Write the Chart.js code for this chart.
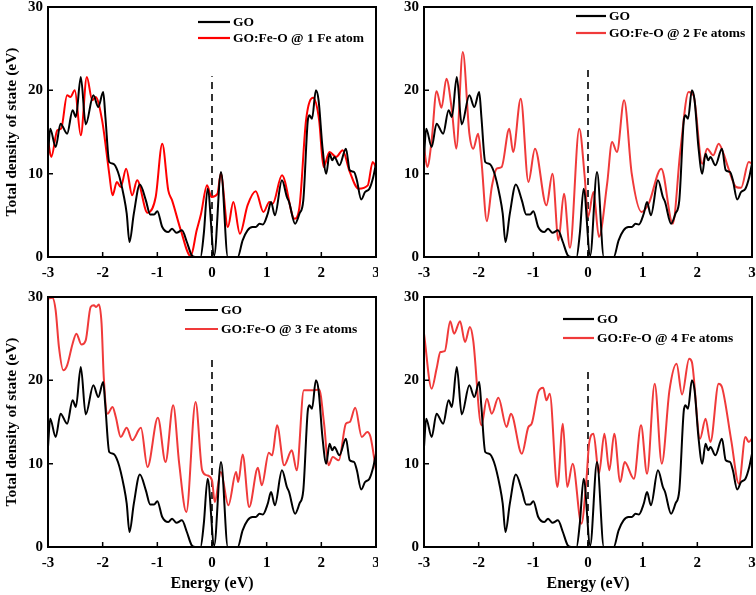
<!DOCTYPE html>
<html><head><meta charset="utf-8">
<script src="https://cdn.jsdelivr.net/npm/chart.js@4.4.0/dist/chart.umd.min.js"></script>
<style>
html,body{margin:0;padding:0;background:#fff;}
body{width:756px;height:595px;position:relative;overflow:hidden;}
.p{position:absolute;}
canvas{display:block;}
</style></head><body>
<div class="p" style="left:0;top:0;width:378px;height:290px"><canvas id="c1" width="378" height="290"></canvas></div>
<div class="p" style="left:378px;top:0;width:378px;height:290px"><canvas id="c2" width="378" height="290"></canvas></div>
<div class="p" style="left:0;top:290px;width:378px;height:305px"><canvas id="c3" width="378" height="305"></canvas></div>
<div class="p" style="left:378px;top:290px;width:378px;height:305px"><canvas id="c4" width="378" height="305"></canvas></div>
<script>
// ---- tick labels ----
const xTickValues = [-3, -2, -1, 0, 1, 2, 3];
const yTickValues = [0, 10, 20, 30];
const xTitle = 'Energy (eV)';
const yTitle = 'Total density of state (eV)';

// ---- GO (same curve in all panels) ----
const goE = [-3.00,-2.96,-2.86,-2.77,-2.65,-2.55,-2.49,-2.40,-2.31,-2.17,-2.08,-1.99,-1.95,-1.88,-1.81,-1.72,-1.61,-1.56,-1.51,-1.43,-1.32,-1.21,-1.13,-1.06,-1.00,-0.91,-0.80,-0.73,-0.65,-0.55,-0.46,-0.37,-0.30,-0.21,-0.15,-0.08,0.04,0.165,0.29,0.47,0.56,0.65,0.74,0.80,0.87,0.93,1.02,1.08,1.15,1.28,1.37,1.41,1.52,1.60,1.67,1.75,1.78,1.83,1.90,1.95,2.02,2.09,2.15,2.20,2.24,2.33,2.45,2.52,2.60,2.65,2.73,2.80,2.88,2.95,3.00];
const goV = [12.0,15.4,13.2,16.0,14.8,17.6,16.8,21.6,15.9,19.4,18.0,19.8,16.8,11.4,11.2,10.2,7.2,5.2,1.8,5.2,8.7,6.8,5.1,5.1,5.5,3.6,3.0,3.4,2.9,3.2,1.8,0.2,0,0,2.8,8.2,0.2,10.2,0,0,2.0,3.2,3.6,3.6,4.0,3.9,5.2,6.6,5.0,9.2,7.2,6.6,4.0,5.2,6.8,16.2,17.0,16.6,20.0,18.8,13.2,10.0,12.4,11.6,12.0,11.0,13.0,10.4,10.2,9.2,6.9,7.8,8.2,9.6,11.2];

// ---- GO:Fe-O @ 1 Fe atom ----
const fe1E = [-3.00,-2.94,-2.83,-2.76,-2.65,-2.59,-2.51,-2.40,-2.29,-2.19,-2.13,-2.01,-1.88,-1.82,-1.74,-1.67,-1.57,-1.46,-1.37,-1.18,-1.03,-0.91,-0.80,-0.73,-0.57,-0.39,-0.28,-0.20,-0.09,-0.01,0.10,0.16,0.29,0.39,0.51,0.65,0.80,0.94,1.05,1.11,1.28,1.51,1.60,1.72,1.85,1.96,2.04,2.15,2.27,2.39,2.51,2.68,2.85,2.94,3.00];
const fe1V = [14.0,12.0,15.2,15.4,19.4,19.2,20.0,14.6,21.6,18.8,19.2,16.4,10.0,7.4,9.0,8.4,10.6,7.4,9.2,5.3,7.2,13.6,8.0,6.8,3.2,0.1,3.2,5.2,8.6,7.2,7.6,10.0,3.6,6.6,2.8,6.2,7.9,5.4,6.6,6.4,9.8,4.6,6.0,16.4,19.1,16.4,10.8,12.6,12.0,12.8,10.4,8.2,8.6,11.4,10.8];

// ---- GO:Fe-O @ 2 Fe atoms ----
const fe2E = [-3.00,-2.94,-2.86,-2.77,-2.68,-2.59,-2.49,-2.41,-2.29,-2.17,-2.10,-2.01,-1.95,-1.85,-1.76,-1.67,-1.58,-1.44,-1.37,-1.23,-1.09,-0.97,-0.76,-0.65,-0.54,-0.44,-0.33,-0.16,-0.06,0.00,0.10,0.20,0.35,0.44,0.53,0.66,0.80,0.98,1.11,1.34,1.55,1.69,1.84,1.93,2.09,2.18,2.29,2.39,2.48,2.57,2.71,2.80,2.94,3.00];
const fe2V = [13.2,10.8,14.0,19.9,17.9,21.4,17.6,13.0,24.6,14.8,13.0,14.8,11.6,4.3,8.4,10.6,10.8,15.4,12.6,19.0,9.0,13.0,6.2,10.0,2.0,7.6,1.1,15.4,9.6,4.8,7.8,2.4,8.8,13.8,12.6,18.8,10.0,5.4,6.4,10.6,4.0,12.8,19.8,19.4,11.2,13.0,12.2,13.6,12.4,10.6,8.4,8.3,11.4,11.2];

// ---- GO:Fe-O @ 3 Fe atoms ----
const fe3E = [-3.00,-2.92,-2.86,-2.80,-2.72,-2.65,-2.55,-2.48,-2.39,-2.31,-2.22,-2.16,-2.12,-2.07,-2.02,-1.98,-1.91,-1.82,-1.76,-1.67,-1.56,-1.46,-1.30,-1.18,-0.99,-0.85,-0.71,-0.60,-0.47,-0.30,-0.18,-0.09,0.00,0.05,0.16,0.30,0.44,0.48,0.56,0.68,0.84,0.91,1.04,1.10,1.19,1.32,1.46,1.55,1.68,1.84,1.96,2.05,2.13,2.21,2.32,2.45,2.52,2.62,2.74,2.84,2.90,3.00];
const fe3V = [29.8,29.9,28.4,24.0,21.2,21.8,24.4,25.6,24.3,24.8,28.8,29.0,28.8,29.1,26.8,20.4,16.0,16.8,15.6,13.2,14.3,12.8,14.3,9.6,15.5,10.2,17.0,10.0,4.2,17.4,9.2,8.6,8.0,5.4,9.0,5.0,9.0,7.8,11.1,4.8,9.5,7.4,11.3,11.0,14.6,9.8,11.6,9.2,18.8,18.8,18.9,14.8,9.8,10.8,10.4,14.8,15.0,16.7,13.2,13.8,13.2,9.2];

// ---- GO:Fe-O @ 4 Fe atoms ----
const fe4E = [-3.00,-2.86,-2.77,-2.70,-2.62,-2.52,-2.45,-2.34,-2.25,-2.16,-2.10,-1.95,-1.85,-1.76,-1.64,-1.49,-1.41,-1.21,-1.09,-1.03,-0.91,-0.82,-0.76,-0.70,-0.56,-0.46,-0.38,-0.28,-0.12,-0.03,0.02,0.10,0.20,0.30,0.39,0.48,0.59,0.67,0.84,0.97,1.08,1.22,1.35,1.49,1.62,1.72,1.85,1.90,2.05,2.15,2.24,2.39,2.45,2.62,2.76,2.88,2.94,3.00];
const fe4V = [25.6,19.0,21.4,23.4,23.5,27.1,25.6,27.1,24.6,26.4,24.8,14.6,17.8,16.0,17.9,14.4,16.0,11.2,14.4,14.8,18.6,19.1,17.6,18.4,7.2,14.8,7.2,10.0,2.8,8.0,12.4,13.6,8.8,13.6,9.2,13.6,7.8,10.2,8.2,14.6,8.8,19.6,10.0,18.8,22.0,18.3,22.6,22.2,13.0,15.4,12.6,19.6,19.2,12.8,7.6,13.2,12.6,13.0];

// ---- labels / Fermi marker heights ----
const goLabel = 'GO';
const feLabels = ['GO:Fe-O @ 1 Fe atom', 'GO:Fe-O @ 2 Fe atoms', 'GO:Fe-O @ 3 Fe atoms', 'GO:Fe-O @ 4 Fe atoms'];
const fermiTop = [21.7, 22.8, 22.6, 21.0];

const FONT = "'Liberation Serif','Times New Roman',serif";
const pts = (E, V) => E.map((e, i) => ({x: e, y: V[i]}));

const framePlugin = {
  id: 'frame',
  afterDatasetsDraw(chart) {
    const {ctx, chartArea: a, scales} = chart;
    ctx.save();
    ctx.strokeStyle = '#000';
    ctx.lineWidth = 2;
    ctx.strokeRect(a.left, a.top, a.right - a.left, a.bottom - a.top);
    ctx.lineWidth = 1.5;
    ctx.beginPath();
    xTickValues.forEach(v => { const px = scales.x.getPixelForValue(v); ctx.moveTo(px, a.bottom); ctx.lineTo(px, a.bottom - 5); });
    yTickValues.forEach(v => { const py = scales.y.getPixelForValue(v); ctx.moveTo(a.left, py); ctx.lineTo(a.left + 5, py); });
    ctx.stroke();
    // legend
    const lg = chart.options.plugins.frameLegend;
    ctx.font = 'bold 13.5px ' + FONT;
    ctx.textBaseline = 'middle';
    ctx.textAlign = 'left';
    const items = chart.data.datasets.filter(d => !d.isMarker);
    items.forEach((d, i) => {
      const y = a.top + lg.ys[i];
      const x0 = a.left + lg.x0, x1 = a.left + lg.x1;
      ctx.strokeStyle = d.borderColor;
      ctx.lineWidth = 2.2;
      ctx.beginPath(); ctx.moveTo(x0, y); ctx.lineTo(x1, y); ctx.stroke();
      ctx.fillStyle = '#000';
      ctx.fillText(d.label, x1 + 3, y + 1);
    });
    ctx.restore();
  }
};

function makeChart(id, idx, feE, feV, color, cfg) {
  const datasets = [
    {label: goLabel, data: pts(goE, goV), borderColor: '#000', borderWidth: 2, pointRadius: 0, cubicInterpolationMode: 'monotone', fill: false},
    {label: feLabels[idx], data: pts(feE, feV), borderColor: color, borderWidth: 2, pointRadius: 0, cubicInterpolationMode: 'monotone', fill: false},
    {label: 'E_F', isMarker: true, data: pts([0, 0], [0, fermiTop[idx]]), borderColor: '#000', borderWidth: 1.6, borderDash: [7, 5], pointRadius: 0, tension: 0, fill: false}
  ];
  return new Chart(document.getElementById(id), {
    type: 'line',
    data: {datasets},
    plugins: [framePlugin],
    options: {
      responsive: false, animation: false, events: [],
      layout: {padding: {top: 7, right: cfg.padR, left: 0, bottom: 0}},
      plugins: {legend: {display: false}, tooltip: {enabled: false}, frameLegend: cfg.legend},
      scales: {
        x: {
          type: 'linear', min: -3, max: 3,
          afterBuildTicks: s => { s.ticks = xTickValues.map(v => ({value: v})); },
          afterFit: s => { s.height = cfg.xH; s.paddingLeft = 0; s.paddingRight = 0; },
          grid: {display: false, drawTicks: false},
          border: {display: false},
          ticks: {color: '#000', padding: 7, maxRotation: 0, autoSkip: false, font: {family: FONT, size: 15, weight: 'bold'}},
          title: {display: cfg.xTitle, text: xTitle, color: '#000', padding: {top: 0, bottom: 2}, font: {family: FONT, size: 16, weight: 'bold'}}
        },
        y: {
          type: 'linear', min: 0, max: 30,
          afterBuildTicks: s => { s.ticks = yTickValues.map(v => ({value: v})); },
          afterFit: s => { s.width = cfg.yW; s.paddingTop = 0; s.paddingBottom = 0; },
          grid: {display: false, drawTicks: false},
          border: {display: false},
          ticks: {color: '#000', padding: 5, autoSkip: false, font: {family: FONT, size: 15, weight: 'bold'}},
          title: {display: cfg.yTitle, text: yTitle, color: '#000', padding: {top: 3, bottom: 0}, font: {family: FONT, size: 15.5, weight: 'bold'}}
        }
      }
    }
  });
}

makeChart('c1', 0, fe1E, fe1V, '#ff0000', {padR: 2, yW: 48, xH: 33, xTitle: false, yTitle: true, legend: {x0: 150, x1: 182, ys: [15, 31]}});
makeChart('c2', 1, fe2E, fe2V, '#f03a3a', {padR: 4, yW: 46, xH: 33, xTitle: false, yTitle: false, legend: {x0: 152, x1: 182, ys: [9, 26]}});
makeChart('c3', 2, fe3E, fe3V, '#f03a3a', {padR: 2, yW: 48, xH: 48, xTitle: true, yTitle: true, legend: {x0: 137, x1: 170, ys: [13, 32]}});
makeChart('c4', 3, fe4E, fe4V, '#f03a3a', {padR: 4, yW: 46, xH: 48, xTitle: true, yTitle: false, legend: {x0: 139, x1: 170, ys: [22, 41]}});
</script>
</body></html>
